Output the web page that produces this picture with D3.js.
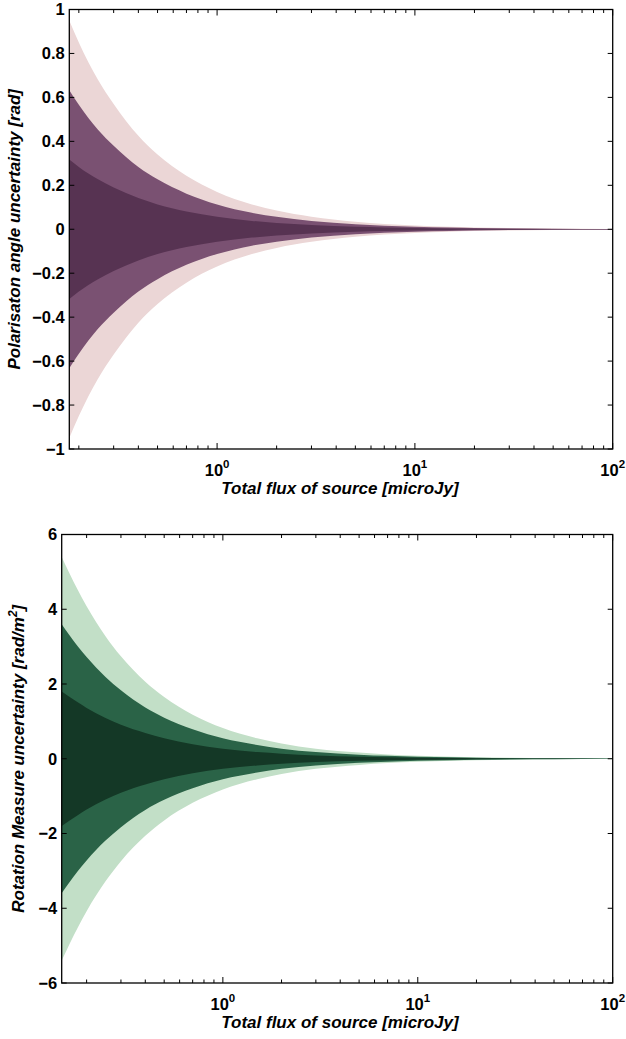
<!DOCTYPE html>
<html lang="en">
<head>
    <meta charset="UTF-8">
    <title>Uncertainty vs flux</title>
    <script src="https://cdn.jsdelivr.net/npm/d3@7"></script>
    <style>
        body { margin: 0; background: #fff; }
        text { font-family: "Liberation Sans", Arial, Helvetica, sans-serif; font-weight: bold; }
    </style>
</head>
<body>
    <div id="root"></div>
    <script>
        // top panel: polarisation angle, 1/2/3 sigma bands
        const angleFlux = [0.179, 0.2, 0.25, 0.3, 0.4, 0.5, 0.7, 1, 1.5, 2, 3, 5, 7, 10, 15, 20, 30, 50, 100];
        const angleOuter = [0.95, 0.85, 0.68, 0.57, 0.425, 0.34, 0.243, 0.17, 0.113, 0.085, 0.057, 0.034, 0.024, 0.017, 0.011, 0.0085, 0.0057, 0.0034, 0.0017];
        const angleMiddle = [0.633, 0.567, 0.453, 0.38, 0.283, 0.227, 0.162, 0.113, 0.075, 0.057, 0.038, 0.023, 0.016, 0.011, 0.0075, 0.0057, 0.0038, 0.0023, 0.0011];
        const angleInner = [0.317, 0.283, 0.227, 0.19, 0.142, 0.113, 0.081, 0.057, 0.038, 0.028, 0.019, 0.011, 0.008, 0.0057, 0.0038, 0.0028, 0.0019, 0.0011, 0.0006];
        const angleTicks = [1, 0.8, 0.6, 0.4, 0.2, 0, -0.2, -0.4, -0.6, -0.8, -1];

        // bottom panel: rotation measure
        const rmFlux = [0.149, 0.18, 0.2, 0.25, 0.3, 0.4, 0.5, 0.7, 1, 1.5, 2, 3, 5, 7, 10, 15, 20, 30, 50, 100];
        const rmOuter = [5.4, 4.52, 4.08, 3.28, 2.74, 2.06, 1.65, 1.18, 0.82, 0.55, 0.41, 0.27, 0.165, 0.117, 0.082, 0.055, 0.041, 0.027, 0.016, 0.008];
        const rmMiddle = [3.6, 3.01, 2.72, 2.19, 1.83, 1.37, 1.1, 0.79, 0.55, 0.37, 0.27, 0.18, 0.11, 0.078, 0.055, 0.037, 0.027, 0.018, 0.011, 0.0055];
        const rmInner = [1.8, 1.51, 1.36, 1.09, 0.91, 0.69, 0.55, 0.39, 0.27, 0.18, 0.137, 0.09, 0.055, 0.039, 0.027, 0.018, 0.014, 0.009, 0.0055, 0.0027];
        const rmTicks = [6, 4, 2, 0, -2, -4, -6];

        const xMajor = [1, 10, 100];

        const svg = d3.select('#root')
            .append('svg')
            .attr('width', 626)
            .attr('height', 1039);

        function fmt(v) {
            return v < 0 ? '\u2212' + Math.abs(v) : String(v);
        }

        function drawPanel(p) {
            const x = d3.scaleLog().domain(p.xDomain).range([p.left, p.right]);
            const y = d3.scaleLinear().domain(p.yDomain).range([p.bottom, p.top]);
            const g = svg.append('g');

            const clipId = 'clip' + p.id;
            g.append('clipPath').attr('id', clipId)
                .append('rect')
                .attr('x', p.left).attr('y', p.top)
                .attr('width', p.right - p.left).attr('height', p.bottom - p.top);

            const area = d3.area()
                .x(d => x(d[0]))
                .y0(d => y(-d[1]))
                .y1(d => y(d[1]))
                .curve(d3.curveMonotoneX);

            const bands = g.append('g').attr('clip-path', 'url(#' + clipId + ')');
            p.bands.forEach((b, i) => {
                bands.append('path')
                    .datum(p.flux.map((f, k) => [f, b[k]]))
                    .attr('d', area)
                    .attr('fill', p.colors[i]);
            });

            // minor + major x ticks, bottom and top, pointing inward
            const xTicks = [];
            for (let dec = 0.1; dec < 100; dec *= 10) {
                for (let m = 1; m < 10; m++) {
                    const v = +(dec * m).toPrecision(3);
                    if (v >= p.xDomain[0] && v <= p.xDomain[1]) xTicks.push(v);
                }
            }
            xTicks.push(100);
            xTicks.forEach(v => {
                const major = xMajor.includes(v);
                const len = major ? 6 : 3.5;
                g.append('line')
                    .attr('x1', x(v)).attr('x2', x(v))
                    .attr('y1', p.bottom).attr('y2', p.bottom - len)
                    .attr('stroke', '#000').attr('stroke-width', 1);
                g.append('line')
                    .attr('x1', x(v)).attr('x2', x(v))
                    .attr('y1', p.top).attr('y2', p.top + len)
                    .attr('stroke', '#000').attr('stroke-width', 1);
            });

            xMajor.forEach((v, i) => {
                const t = g.append('text')
                    .attr('x', x(v))
                    .attr('y', p.bottom + 27)
                    .attr('text-anchor', 'middle')
                    .attr('font-size', 16.5);
                t.append('tspan').text('10');
                t.append('tspan').attr('dy', -8).attr('font-size', 11.5).text(String(i));
            });

            p.yTicks.forEach(v => {
                g.append('line')
                    .attr('x1', p.left).attr('x2', p.left + 5)
                    .attr('y1', y(v)).attr('y2', y(v))
                    .attr('stroke', '#000').attr('stroke-width', 1);
                g.append('line')
                    .attr('x1', p.right).attr('x2', p.right - 5)
                    .attr('y1', y(v)).attr('y2', y(v))
                    .attr('stroke', '#000').attr('stroke-width', 1);
                g.append('text')
                    .attr('x', p.left - 4.5)
                    .attr('y', y(v))
                    .attr('dy', '0.36em')
                    .attr('text-anchor', 'end')
                    .attr('font-size', 16.5)
                    .text(fmt(v));
            });

            g.append('rect')
                .attr('x', p.left).attr('y', p.top)
                .attr('width', p.right - p.left).attr('height', p.bottom - p.top)
                .attr('fill', 'none')
                .attr('stroke', '#000')
                .attr('stroke-width', 1.3);

            g.append('text')
                .attr('x', 340)
                .attr('y', p.bottom + 45)
                .attr('text-anchor', 'middle')
                .attr('font-size', 17)
                .attr('font-style', 'italic')
                .text('Total flux of source [microJy]');

            const yl = g.append('text')
                .attr('transform', 'translate(' + p.yLabelX + ',' + ((p.top + p.bottom) / 2) + ') rotate(-90)')
                .attr('text-anchor', 'middle')
                .attr('font-size', 17)
                .attr('font-style', 'italic');
            yl.append('tspan').text(p.yLabel);
            if (p.yLabelSup) {
                yl.append('tspan').attr('dy', -7).attr('font-size', 12).text(p.yLabelSup);
                yl.append('tspan').attr('dy', 7).text(']');
            }
        }

        drawPanel({
            id: 'a', left: 69.3, right: 612.7, top: 9.5, bottom: 449,
            xDomain: [0.179, 100], yDomain: [-1, 1],
            flux: angleFlux, bands: [angleOuter, angleMiddle, angleInner],
            colors: ['#ebd6d6', '#7a5172', '#573352'],
            yTicks: angleTicks,
            yLabel: 'Polarisaton angle uncertainty [rad]', yLabelX: 20
        });

        drawPanel({
            id: 'b', left: 61.7, right: 612.7, top: 534.5, bottom: 983,
            xDomain: [0.149, 100], yDomain: [-6, 6],
            flux: rmFlux, bands: [rmOuter, rmMiddle, rmInner],
            colors: ['#c2dfc7', '#2a6347', '#143826'],
            yTicks: rmTicks,
            yLabel: 'Rotation Measure uncertainty [rad/m', yLabelSup: '2', yLabelX: 24
        });
    </script>
</body>
</html>
